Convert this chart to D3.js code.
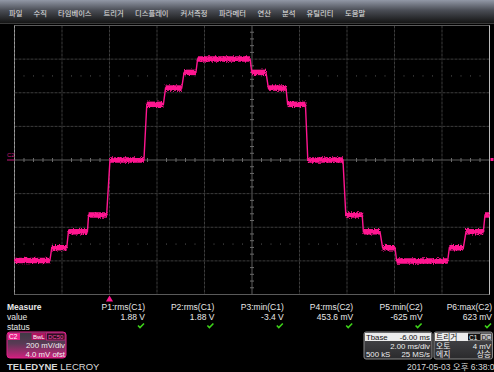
<!DOCTYPE html>
<html>
<head>
<meta charset="utf-8">
<script src="https://cdn.jsdelivr.net/npm/d3@7"></script>
<style>
  html, body { margin: 0; padding: 0; background: #000; overflow: hidden; }
  svg { display: block; font-family: "Liberation Sans", Arial, "Noto Sans CJK KR", sans-serif; }
</style>
</head>
<body>
<div id="scope"></div>
<script>
// menu labels along the top bar
const menuItems = ['파일', '수직', '타임베이스', '트리거', '디스플레이', '커서측정', '파라메터', '연산', '분석', '유틸리티', '도움말'];
const menuX = [9, 33.5, 58, 103.5, 135, 180.5, 219, 257.5, 282, 306.5, 345];

// C2 staircase trace: each flat step (ms start, ms end, mV level)
const stepStart = [-4.00, -2.43, -1.73, -0.88, 0.02, 1.57, 2.36, 3.14, 3.71, 5.99, 6.69, 7.50, 8.35, 9.95, 10.69, 11.50, 12.09, 14.31, 15.01, 15.81];
const stepEnd = [-2.51, -1.80, -0.93, -0.12, 1.45, 2.27, 3.04, 3.64, 5.92, 6.59, 7.43, 8.25, 9.83, 10.64, 11.39, 12.02, 14.24, 14.90, 15.74, 16.00];
const stepLevel = [-598, -522, -427, -327, 0, 331, 428, 521, 601, 521, 428, 331, 0, -327, -427, -522, -600, -522, -427, -327];

// measurement table
const paramNames = ['P1:rms(C1)', 'P2:rms(C1)', 'P3:min(C1)', 'P4:rms(C2)', 'P5:min(C2)', 'P6:max(C2)'];
const paramValues = ['1.88 V', '1.88 V', '-3.4 V', '453.6 mV', '-625 mV', '623 mV'];

// axis settings: 2 ms/div, 200 mV/div
const timeTicks = d3.range(-4, 16.01, 2);
const voltTicks = d3.range(-800, 800.1, 200);

const width = 494;
const height = 372;
const pink = '#ff1690';

const svg = d3.select('#scope')
  .append('svg')
  .attr('width', width)
  .attr('height', height);

const defs = svg.append('defs');

const menuGrad = defs.append('linearGradient')
  .attr('id', 'menuGrad').attr('x1', 0).attr('y1', 0).attr('x2', 0).attr('y2', 1);
menuGrad.append('stop').attr('offset', '0%').attr('stop-color', '#9298a6');
menuGrad.append('stop').attr('offset', '45%').attr('stop-color', '#4a4d55');
menuGrad.append('stop').attr('offset', '100%').attr('stop-color', '#141414');

const chanGrad = defs.append('linearGradient')
  .attr('id', 'chanGrad').attr('x1', 0).attr('y1', 0).attr('x2', 0).attr('y2', 1);
chanGrad.append('stop').attr('offset', '0%').attr('stop-color', '#3c3a44');
chanGrad.append('stop').attr('offset', '45%').attr('stop-color', '#5a3a55');
chanGrad.append('stop').attr('offset', '100%').attr('stop-color', '#d0207e');

const boxGrad = defs.append('linearGradient')
  .attr('id', 'boxGrad').attr('x1', 0).attr('y1', 0).attr('x2', 0).attr('y2', 1);
boxGrad.append('stop').attr('offset', '0%').attr('stop-color', '#4a4a4e');
boxGrad.append('stop').attr('offset', '100%').attr('stop-color', '#2a2a2c');

// jagged noise on the thick trace band
const noise = defs.append('filter')
  .attr('id', 'noise').attr('x', '-5%').attr('y', '-50%').attr('width', '110%').attr('height', '200%');
noise.append('feTurbulence')
  .attr('type', 'fractalNoise').attr('baseFrequency', '0.9 0.7').attr('numOctaves', 2).attr('seed', 3).attr('result', 't');
noise.append('feDisplacementMap')
  .attr('in', 'SourceGraphic').attr('in2', 't').attr('scale', 4)
  .attr('xChannelSelector', 'R').attr('yChannelSelector', 'G');

// menu bar
svg.append('rect')
  .attr('width', width).attr('height', 23)
  .attr('fill', 'url(#menuGrad)');
svg.append('line')
  .attr('x1', 0).attr('x2', width).attr('y1', 23.5).attr('y2', 23.5)
  .attr('stroke', '#3a3a3a');

svg.append('g').selectAll('text')
  .data(menuItems)
  .join('text')
  .attr('x', (d, i) => menuX[i])
  .attr('y', 15.5)
  .attr('font-size', 7.3)
  .attr('fill', '#e2e2e2')
  .text(d => d);

// scales
const x = d3.scaleLinear().domain([-4, 16]).range([14.5, 489.5]);
const y = d3.scaleLinear().domain([-800, 800]).range([294.5, 25.5]);

// grid
const grid = svg.append('g');
grid.selectAll('line.v')
  .data(timeTicks.slice(1, -1))
  .join('line')
  .attr('class', 'v')
  .attr('x1', d => x(d)).attr('x2', d => x(d))
  .attr('y1', y(800)).attr('y2', y(-800))
  .attr('stroke', d => d === 6 ? '#5c5c5c' : '#3c3c3c')
  .attr('stroke-dasharray', d => d === 6 ? null : '3,1');

grid.selectAll('line.h')
  .data(voltTicks.slice(1, -1))
  .join('line')
  .attr('class', 'h')
  .attr('x1', x(-4)).attr('x2', x(16))
  .attr('y1', d => y(d)).attr('y2', d => y(d))
  .attr('stroke', d => d === 0 ? '#5c5c5c' : '#3c3c3c')
  .attr('stroke-dasharray', d => d === 0 ? null : '3,1');

// minor ticks on centre axes
const minorT = d3.range(-4, 16.01, 0.4).filter(t => Math.abs(t / 2 - Math.round(t / 2)) > 0.01);
const minorV = d3.range(-800, 800.1, 40).filter(v => v % 200 !== 0);

grid.selectAll('line.mt')
  .data(minorT)
  .join('line')
  .attr('class', 'mt')
  .attr('x1', d => x(d)).attr('x2', d => x(d))
  .attr('y1', y(0) - 2).attr('y2', y(0) + 2)
  .attr('stroke', '#6a6a6a');

grid.selectAll('line.mv')
  .data(minorV)
  .join('line')
  .attr('class', 'mv')
  .attr('x1', x(6) - 2).attr('x2', x(6) + 2)
  .attr('y1', d => y(d)).attr('y2', d => y(d))
  .attr('stroke', '#6a6a6a');

// dotted lines at +/- 2.5 div
[500, -500].forEach(level => {
  grid.selectAll(null)
    .data(minorT)
    .join('rect')
    .attr('x', d => x(d) - 0.5)
    .attr('y', y(level) - 0.5)
    .attr('width', 1).attr('height', 1)
    .attr('fill', '#555');
});

// border
grid.append('rect')
  .attr('x', x(-4)).attr('y', y(800))
  .attr('width', x(16) - x(-4)).attr('height', y(-800) - y(800))
  .attr('fill', 'none')
  .attr('stroke', '#5a5a5a');
grid.append('line')
  .attr('x1', x(-4)).attr('x2', x(-4)).attr('y1', y(800)).attr('y2', y(-800))
  .attr('stroke', '#9a9a9a').attr('stroke-dasharray', '3,1');
grid.append('line')
  .attr('x1', x(16)).attr('x2', x(16)).attr('y1', y(800)).attr('y2', y(-800))
  .attr('stroke', '#bdbdbd');

// trace
const points = [];
stepLevel.forEach((v, i) => {
  points.push([stepStart[i], v]);
  points.push([stepEnd[i], v]);
});
const line = d3.line().x(d => x(d[0])).y(d => y(d[1]));

svg.append('path')
  .attr('d', line(points))
  .attr('fill', 'none')
  .attr('stroke', pink)
  .attr('stroke-width', 1.4);

svg.append('g')
  .attr('filter', 'url(#noise)')
  .selectAll('path')
  .data(stepLevel)
  .join('path')
  .attr('d', (v, i) => line([[stepStart[i], v], [stepEnd[i], v]]))
  .attr('fill', 'none')
  .attr('stroke', pink)
  .attr('stroke-width', 5.5);

// channel markers
svg.append('text')
  .attr('x', 7).attr('y', y(0) - 3)
  .attr('font-size', 6).attr('fill', '#c01a78')
  .text('C2');
svg.append('line')
  .attr('x1', 7).attr('x2', x(-4)).attr('y1', y(0)).attr('y2', y(0))
  .attr('stroke', '#c01a78');
svg.append('rect')
  .attr('x', x(16) + 1).attr('y', y(0) - 2)
  .attr('width', 3).attr('height', 3)
  .attr('fill', pink);

// trigger marker
svg.append('path')
  .attr('d', d3.symbol(d3.symbolTriangle, 22)())
  .attr('transform', `translate(${x(0)},${y(-800) + 5})`)
  .attr('fill', pink);

// measurement table
const col = d3.scalePoint().domain(paramNames).range([145, 492]);
const table = svg.append('g').attr('font-size', 8.5).attr('fill', '#e8e8e8');

table.append('text').attr('x', 7).attr('y', 310).attr('font-weight', 'bold').text('Measure');
table.append('text').attr('x', 7).attr('y', 320).text('value');
table.append('text').attr('x', 7).attr('y', 330).text('status');

table.selectAll('text.name')
  .data(paramNames)
  .join('text')
  .attr('class', 'name')
  .attr('x', d => col(d)).attr('y', 310)
  .attr('text-anchor', 'end')
  .text(d => d);

table.selectAll('text.val')
  .data(paramValues)
  .join('text')
  .attr('class', 'val')
  .attr('x', (d, i) => col(paramNames[i])).attr('y', 320)
  .attr('text-anchor', 'end')
  .text(d => d);

table.selectAll('path.ok')
  .data(paramNames)
  .join('path')
  .attr('class', 'ok')
  .attr('d', d => `M${col(d) - 7},${325.5} l2,2 l4,-4`)
  .attr('fill', 'none')
  .attr('stroke', '#3ed21a')
  .attr('stroke-width', 1.6);

// C2 channel box
const chan = svg.append('g');
chan.append('rect')
  .attr('x', 7).attr('y', 332).attr('width', 59).attr('height', 26).attr('rx', 3)
  .attr('fill', 'url(#chanGrad)').attr('stroke', '#e0208a');
chan.append('rect').attr('x', 8).attr('y', 333).attr('width', 12).attr('height', 7).attr('fill', '#e8208a');
chan.append('text').attr('x', 9).attr('y', 339).attr('font-size', 6.5).attr('fill', '#fff').text('C2');
chan.append('rect').attr('x', 31.5).attr('y', 333).attr('width', 14).attr('height', 7).attr('fill', '#b0135f');
chan.append('text').attr('x', 33).attr('y', 339).attr('font-size', 6).attr('fill', '#fff').text('BwL');
chan.append('rect').attr('x', 46.5).attr('y', 333).attr('width', 18.5).attr('height', 7)
  .attr('fill', '#2a1020').attr('stroke', '#e0208a').attr('stroke-width', 0.7);
chan.append('text').attr('x', 48).attr('y', 339).attr('font-size', 6).attr('fill', '#ff4aa8').text('DC50');
chan.append('text').attr('x', 65).attr('y', 348).attr('text-anchor', 'end').attr('font-size', 7.8).attr('fill', '#f0f0f0').text('200 mV/div');
chan.append('text').attr('x', 65).attr('y', 356.5).attr('text-anchor', 'end').attr('font-size', 7.8).attr('fill', '#f0f0f0').text('4.0 mV ofst');

// brand
const brand = svg.append('text').attr('x', 7).attr('y', 369.5).attr('font-size', 9.5).attr('fill', '#d8d8d8');
brand.append('tspan').attr('font-weight', 'bold').text('TELEDYNE');
brand.append('tspan').text(' LECROY');

// timebase box
const tb = svg.append('g').attr('font-size', 7.8);
tb.append('rect').attr('x', 364).attr('y', 332).attr('width', 68).attr('height', 27).attr('rx', 2)
  .attr('fill', 'url(#boxGrad)').attr('stroke', '#8a8a8a');
tb.append('rect').attr('x', 365).attr('y', 333).attr('width', 66).attr('height', 8).attr('fill', '#ececec');
tb.append('text').attr('x', 366).attr('y', 340).attr('fill', '#111').text('Tbase');
tb.append('text').attr('x', 430).attr('y', 340).attr('text-anchor', 'end').attr('fill', '#111').text('-6.00 ms');
tb.append('text').attr('x', 430).attr('y', 348.5).attr('text-anchor', 'end').attr('fill', '#eee').text('2.00 ms/div');
tb.append('text').attr('x', 366).attr('y', 357).attr('fill', '#eee').text('500 kS');
tb.append('text').attr('x', 430).attr('y', 357).attr('text-anchor', 'end').attr('fill', '#eee').text('25 MS/s');

// trigger box
const tr = svg.append('g').attr('font-size', 7.8);
tr.append('rect').attr('x', 434).attr('y', 332).attr('width', 58.5).attr('height', 27).attr('rx', 2)
  .attr('fill', 'url(#boxGrad)').attr('stroke', '#8a8a8a');
tr.append('rect').attr('x', 435).attr('y', 333).attr('width', 56.5).attr('height', 8).attr('fill', '#ececec');
tr.append('text').attr('x', 436).attr('y', 340).attr('fill', '#111').text('트리거');
tr.append('rect').attr('x', 468).attr('y', 333.5).attr('width', 12).attr('height', 7).attr('fill', '#111');
tr.append('text').attr('x', 469).attr('y', 339.5).attr('font-size', 6.5).attr('fill', '#fff').text('C1');
tr.append('rect').attr('x', 480.5).attr('y', 333.5).attr('width', 11).attr('height', 7).attr('fill', '#bbb').attr('stroke', '#111').attr('stroke-width', 0.6);
tr.append('text').attr('x', 481.5).attr('y', 339.5).attr('font-size', 6.5).attr('fill', '#111').text('DC');
tr.append('text').attr('x', 436).attr('y', 348.5).attr('fill', '#eee').text('오토');
tr.append('text').attr('x', 491).attr('y', 348.5).attr('text-anchor', 'end').attr('fill', '#eee').text('4 mV');
tr.append('text').attr('x', 436).attr('y', 357).attr('fill', '#eee').text('에지');
tr.append('text').attr('x', 491).attr('y', 357).attr('text-anchor', 'end').attr('fill', '#eee').text('상승');

// timestamp
svg.append('text')
  .attr('x', 407).attr('y', 370)
  .attr('font-size', 8.5).attr('fill', '#d8d8d8')
  .text('2017-05-03 오후 6:38:0');
</script>
</body>
</html>
